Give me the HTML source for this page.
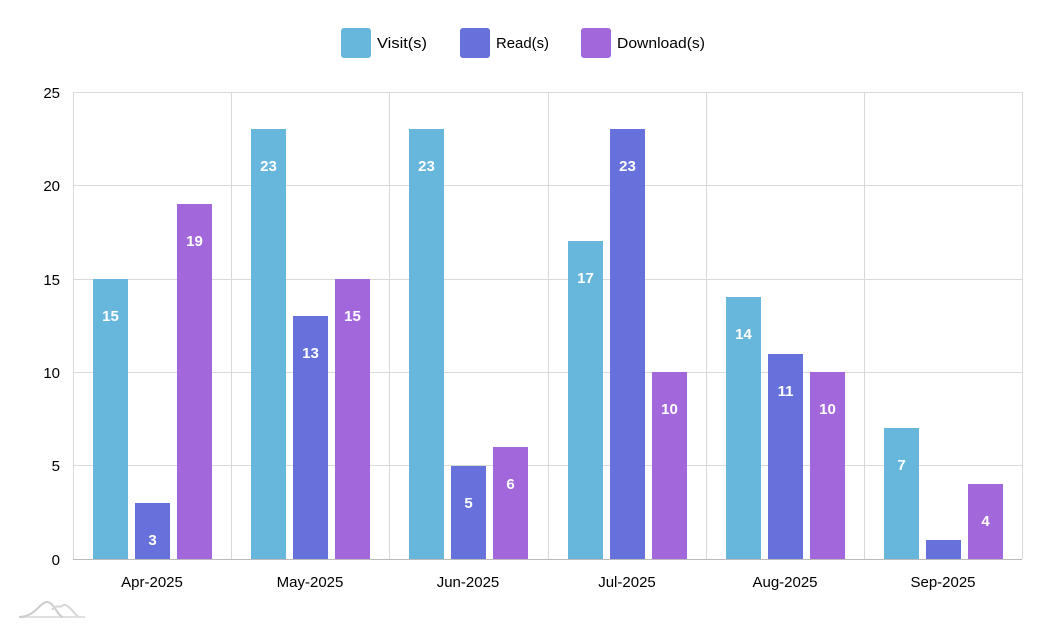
<!DOCTYPE html>
<html><head><meta charset="utf-8"><style>
html,body{margin:0;padding:0;background:#fff;}
svg{display:block;font-family:"Liberation Sans",sans-serif;}
</style></head><body>
<svg width="1048" height="637" viewBox="0 0 1048 637" xmlns="http://www.w3.org/2000/svg">
<rect width="1048" height="637" fill="#fff"/>
<!-- legend -->
<rect x="341" y="28" width="30" height="30" rx="3" fill="#67b7dc"/>
<text x="377" y="48" font-size="15" textLength="50" lengthAdjust="spacingAndGlyphs">Visit(s)</text>
<rect x="460" y="28" width="30" height="30" rx="3" fill="#6771dc"/>
<text x="496" y="48" font-size="15" textLength="53" lengthAdjust="spacingAndGlyphs">Read(s)</text>
<rect x="581" y="28" width="30" height="30" rx="3" fill="#a367dc"/>
<text x="617" y="48" font-size="15" textLength="88" lengthAdjust="spacingAndGlyphs">Download(s)</text>
<!-- grid -->
<g stroke="#d9d9d9" stroke-width="1">
<line x1="73" y1="92.5" x2="1022" y2="92.5"/>
<line x1="73" y1="185.5" x2="1022" y2="185.5"/>
<line x1="73" y1="279.5" x2="1022" y2="279.5"/>
<line x1="73" y1="372.5" x2="1022" y2="372.5"/>
<line x1="73" y1="465.5" x2="1022" y2="465.5"/>
<line x1="73.5" y1="92" x2="73.5" y2="559"/>
<line x1="231.5" y1="92" x2="231.5" y2="559"/>
<line x1="389.5" y1="92" x2="389.5" y2="559"/>
<line x1="548.5" y1="92" x2="548.5" y2="559"/>
<line x1="706.5" y1="92" x2="706.5" y2="559"/>
<line x1="864.5" y1="92" x2="864.5" y2="559"/>
<line x1="1022.5" y1="92" x2="1022.5" y2="559"/>
</g>
<line x1="73" y1="559.5" x2="1022" y2="559.5" stroke="#bbb"/>
<!-- y labels -->
<g font-size="15" text-anchor="end">
<text x="60" y="98">25</text><text x="60" y="191">20</text><text x="60" y="285">15</text>
<text x="60" y="378">10</text><text x="60" y="471">5</text><text x="60" y="565">0</text>
</g>
<!-- x labels -->
<g font-size="15" text-anchor="middle">
<text x="152" y="587">Apr-2025</text><text x="310" y="587">May-2025</text><text x="468" y="587">Jun-2025</text>
<text x="627" y="587">Jul-2025</text><text x="785" y="587">Aug-2025</text><text x="943" y="587">Sep-2025</text>
</g>
<!-- bars -->
<g>
<rect x="93" y="279" width="35" height="280" fill="#67b7dc"/>
<rect x="135" y="503" width="35" height="56" fill="#6771dc"/>
<rect x="177" y="204" width="35" height="355" fill="#a367dc"/>
<rect x="251" y="129" width="35" height="430" fill="#67b7dc"/>
<rect x="293" y="316" width="35" height="243" fill="#6771dc"/>
<rect x="335" y="279" width="35" height="280" fill="#a367dc"/>
<rect x="409" y="129" width="35" height="430" fill="#67b7dc"/>
<rect x="451" y="466" width="35" height="93" fill="#6771dc"/>
<rect x="493" y="447" width="35" height="112" fill="#a367dc"/>
<rect x="568" y="241" width="35" height="318" fill="#67b7dc"/>
<rect x="610" y="129" width="35" height="430" fill="#6771dc"/>
<rect x="652" y="372" width="35" height="187" fill="#a367dc"/>
<rect x="726" y="297" width="35" height="262" fill="#67b7dc"/>
<rect x="768" y="354" width="35" height="205" fill="#6771dc"/>
<rect x="810" y="372" width="35" height="187" fill="#a367dc"/>
<rect x="884" y="428" width="35" height="131" fill="#67b7dc"/>
<rect x="926" y="540" width="35" height="19" fill="#6771dc"/>
<rect x="968" y="484" width="35" height="75" fill="#a367dc"/>
</g>
<g font-size="15" font-weight="bold" fill="#fff" text-anchor="middle">
<text x="110.5" y="321">15</text><text x="152.5" y="545">3</text><text x="194.5" y="246">19</text>
<text x="268.5" y="171">23</text><text x="310.5" y="358">13</text><text x="352.5" y="321">15</text>
<text x="426.5" y="171">23</text><text x="468.5" y="508">5</text><text x="510.5" y="489">6</text>
<text x="585.5" y="283">17</text><text x="627.5" y="171">23</text><text x="669.5" y="414">10</text>
<text x="743.5" y="339">14</text><text x="785.5" y="396">11</text><text x="827.5" y="414">10</text>
<text x="901.5" y="470">7</text><text x="985.5" y="526">4</text>
</g>
<!-- logo -->
<g fill="none" stroke-width="2">
<path d="M19 617 H85" stroke="#e0e0e0"/>
<path d="M19 617 C35 617 40 602 47 602 C54 602 58 617 63 617" stroke="#ccc"/>
<path d="M52 610 C56 604 60 608 62 606 C66 602 72 610 78 617" stroke="#d6d6d6"/>
</g>
</svg>
</body></html>
